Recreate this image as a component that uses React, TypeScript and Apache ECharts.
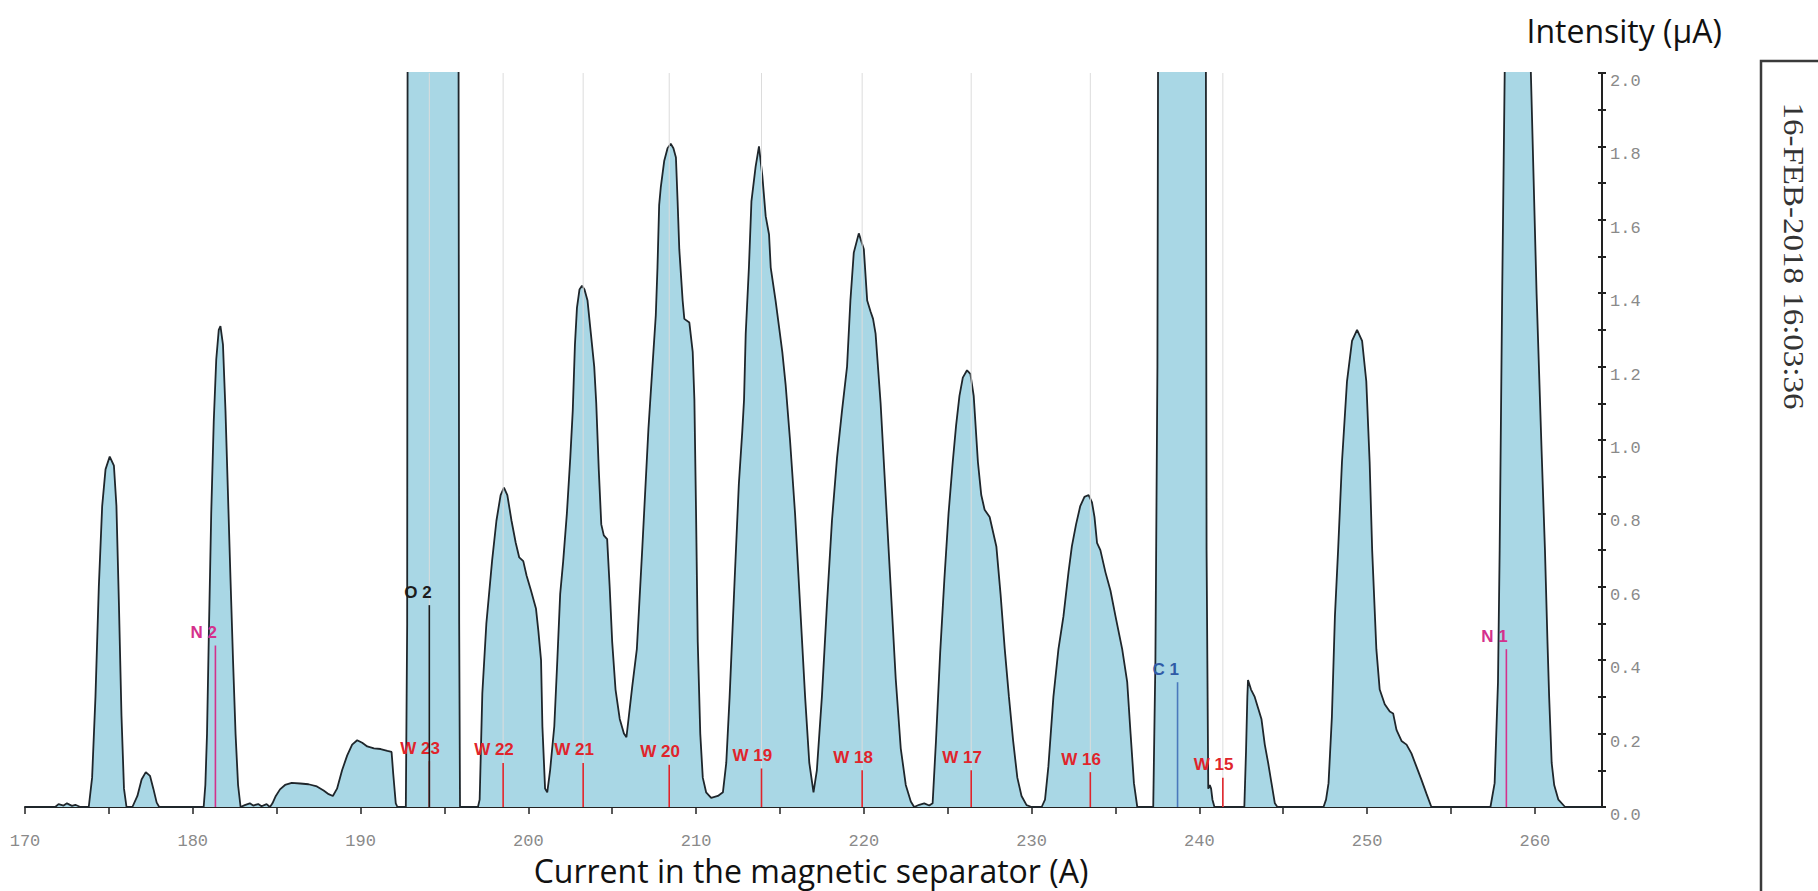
import React, { useEffect, useRef } from "react";
import * as echarts from "echarts";

// ---- Spectrum (current in A, intensity in µA) ----
const baselineStart: [number, number][] = [
  [170, 0], [171.8, 0], [172.0, 0.008], [172.3, 0.004], [172.5, 0.01], [172.8, 0.003], [173.0, 0.006], [173.3, 0],
];
const peak175: [number, number][] = [
  [173.8, 0], [174.0, 0.08], [174.2, 0.3], [174.4, 0.6], [174.6, 0.82], [174.8, 0.92], [175.05, 0.955],
  [175.3, 0.93], [175.45, 0.82], [175.6, 0.55], [175.75, 0.25], [175.9, 0.05], [176.05, 0],
];
const bump177: [number, number][] = [
  [176.4, 0], [176.7, 0.03], [176.95, 0.075], [177.2, 0.095], [177.45, 0.085], [177.65, 0.05], [177.85, 0.012], [178.0, 0],
  [180.5, 0],
];
const peakN2: [number, number][] = [
  [180.65, 0], [180.75, 0.06], [180.85, 0.2], [180.95, 0.45], [181.1, 0.8], [181.25, 1.05], [181.4, 1.22],
  [181.55, 1.3], [181.65, 1.31], [181.8, 1.26], [181.95, 1.08], [182.1, 0.85], [182.25, 0.62], [182.4, 0.4],
  [182.55, 0.2], [182.7, 0.06], [182.85, 0],
];
const noise183: [number, number][] = [
  [183.1, 0.005], [183.4, 0.01], [183.6, 0.004], [183.9, 0.008], [184.1, 0.002], [184.4, 0.008], [184.6, 0],
];
const humps186to191: [number, number][] = [
  [184.75, 0.01], [184.95, 0.03], [185.2, 0.048], [185.5, 0.06], [185.9, 0.066], [186.4, 0.064], [186.9, 0.062],
  [187.4, 0.056], [187.8, 0.045], [188.1, 0.035], [188.35, 0.03], [188.6, 0.05], [188.9, 0.1], [189.2, 0.14],
  [189.5, 0.17], [189.8, 0.182], [190.1, 0.175], [190.4, 0.165], [190.8, 0.16], [191.2, 0.158], [191.6, 0.153],
  [191.85, 0.15], [191.95, 0.09], [192.1, 0.01], [192.2, 0],
];
const barO2: [number, number][] = [
  [192.7, 0], [192.78, 0.5], [192.82, 3], [195.82, 3], [195.88, 0.5], [195.93, 0], [197.0, 0],
];
const peakW22: [number, number][] = [
  [197.1, 0.02], [197.26, 0.31], [197.5, 0.5], [197.84, 0.67], [198.1, 0.78], [198.35, 0.85], [198.55, 0.87],
  [198.75, 0.85], [199.0, 0.78], [199.25, 0.72], [199.46, 0.68], [199.7, 0.67], [199.9, 0.63], [200.16, 0.59],
  [200.46, 0.54], [200.6, 0.48], [200.76, 0.4], [200.84, 0.22], [201.0, 0.05], [201.13, 0.04],
];
const peakW21: [number, number][] = [
  [201.3, 0.1], [201.55, 0.22], [201.73, 0.4], [201.9, 0.58], [202.08, 0.67], [202.3, 0.8], [202.5, 0.95],
  [202.65, 1.08], [202.78, 1.26], [202.9, 1.36], [203.05, 1.41], [203.2, 1.42], [203.35, 1.41], [203.53, 1.38],
  [203.73, 1.29], [203.93, 1.2], [204.05, 1.1], [204.2, 0.92], [204.35, 0.77], [204.5, 0.74], [204.7, 0.73],
  [204.85, 0.6], [205.0, 0.45], [205.2, 0.32], [205.45, 0.24], [205.7, 0.2], [205.85, 0.19],
];
const peakW20: [number, number][] = [
  [206.0, 0.25], [206.2, 0.33], [206.47, 0.43], [206.8, 0.71], [207.16, 1.03], [207.4, 1.2], [207.6, 1.34],
  [207.7, 1.47], [207.8, 1.64], [207.9, 1.69], [208.1, 1.76], [208.3, 1.795], [208.49, 1.807], [208.65, 1.795],
  [208.8, 1.77], [208.9, 1.65], [209.0, 1.52], [209.2, 1.38], [209.3, 1.33], [209.6, 1.32], [209.8, 1.24],
  [209.9, 1.11], [210.0, 0.8], [210.1, 0.45], [210.25, 0.2], [210.4, 0.08], [210.6, 0.04], [210.9, 0.025],
  [211.3, 0.03],
];
const peakW19: [number, number][] = [
  [211.6, 0.04], [211.8, 0.12], [212.0, 0.3], [212.3, 0.62], [212.55, 0.88], [212.75, 1.02], [212.86, 1.11],
  [212.96, 1.29], [213.15, 1.47], [213.3, 1.65], [213.55, 1.745], [213.75, 1.8], [213.95, 1.72], [214.15, 1.61],
  [214.35, 1.56], [214.45, 1.47], [214.74, 1.38], [214.94, 1.31], [215.14, 1.24], [215.34, 1.15], [215.6, 1.0],
  [215.9, 0.8], [216.2, 0.55], [216.5, 0.3], [216.75, 0.12], [217.0, 0.04],
];
const peakW18: [number, number][] = [
  [217.2, 0.1], [217.5, 0.3], [217.8, 0.55], [218.1, 0.78], [218.4, 0.95], [218.7, 1.08], [219.0, 1.2],
  [219.2, 1.38], [219.4, 1.51], [219.7, 1.563], [220.0, 1.52], [220.2, 1.38], [220.4, 1.35], [220.55, 1.33],
  [220.7, 1.29], [221.0, 1.1], [221.3, 0.85], [221.6, 0.6], [221.9, 0.35], [222.2, 0.16], [222.5, 0.06],
  [222.8, 0.015], [223.0, 0],
];
const noise223: [number, number][] = [
  [223.3, 0.006], [223.6, 0.01], [223.9, 0.004],
];
const peakW17: [number, number][] = [
  [224.1, 0.01], [224.3, 0.18], [224.55, 0.42], [224.8, 0.62], [225.05, 0.8], [225.3, 0.94], [225.5, 1.04],
  [225.7, 1.12], [225.9, 1.17], [226.15, 1.19], [226.35, 1.18], [226.55, 1.12], [226.8, 0.94], [227.0, 0.85],
  [227.2, 0.81], [227.5, 0.79], [227.9, 0.71], [228.15, 0.58], [228.4, 0.43], [228.65, 0.3], [228.9, 0.18],
  [229.15, 0.08], [229.4, 0.03], [229.7, 0.005], [230.0, 0], [230.6, 0],
];
const peakW16: [number, number][] = [
  [230.8, 0.02], [231.0, 0.11], [231.3, 0.3], [231.6, 0.43], [231.9, 0.52], [232.2, 0.64], [232.4, 0.71],
  [232.65, 0.77], [232.9, 0.82], [233.15, 0.845], [233.4, 0.85], [233.6, 0.83], [233.75, 0.79], [233.9, 0.72],
  [234.1, 0.7], [234.4, 0.64], [234.7, 0.59], [235.0, 0.52], [235.4, 0.43], [235.7, 0.34], [235.9, 0.2],
  [236.1, 0.065], [236.3, 0],
];
const barC1: [number, number][] = [
  [237.25, 0], [237.38, 0.4], [237.5, 1.2], [237.58, 3], [240.36, 3], [240.43, 0.7], [240.53, 0.05],
  [240.62, 0.06], [240.7, 0.05], [240.78, 0.02], [240.9, 0],
];
const peak243: [number, number][] = [
  [242.68, 0], [242.78, 0.15], [242.86, 0.3], [242.9, 0.346], [243.08, 0.32], [243.3, 0.3], [243.5, 0.27],
  [243.7, 0.24], [243.9, 0.17], [244.1, 0.12], [244.3, 0.065], [244.5, 0.01], [244.65, 0],
];
const peak249: [number, number][] = [
  [247.4, 0], [247.55, 0.02], [247.7, 0.065], [247.9, 0.246], [248.08, 0.52], [248.27, 0.7], [248.5, 0.94],
  [248.8, 1.16], [249.1, 1.27], [249.4, 1.3], [249.7, 1.27], [249.95, 1.16], [250.15, 0.94], [250.3, 0.7],
  [250.55, 0.43], [250.75, 0.32], [251.05, 0.28], [251.35, 0.26], [251.55, 0.255], [251.75, 0.21],
  [252.05, 0.18], [252.35, 0.17], [252.64, 0.146], [252.94, 0.11], [253.24, 0.074], [253.53, 0.037], [253.83, 0],
];
const barN1: [number, number][] = [
  [257.35, 0], [257.6, 0.065], [257.8, 0.34], [257.9, 0.7], [258.05, 1.4], [258.2, 2.0], [258.35, 3],
  [259.6, 3], [259.76, 2.0], [260.1, 1.4], [260.4, 0.97], [260.6, 0.7], [260.75, 0.45], [260.85, 0.3],
  [261.0, 0.12], [261.15, 0.06], [261.4, 0.02], [261.8, 0], [264, 0],
];

// ---- Ion markers ----
const markerLabels = ["N 2", "W 23", "O 2", "W 22", "W 21", "W 20", "W 19", "W 18", "W 17", "W 16", "C 1", "W 15", "N 1"];
const markerCurrents = [181.35, 194.1, 194.1, 198.5, 203.27, 208.4, 213.9, 219.9, 226.4, 233.5, 238.7, 241.4, 258.3];
const markerHeights = [0.44, 0.125, 0.55, 0.12, 0.12, 0.115, 0.105, 0.1, 0.1, 0.095, 0.34, 0.08, 0.43];
const markerKinds = ["N", "W", "O", "W", "W", "W", "W", "W", "W", "W", "C", "W", "N"];

const xMin = 170;
const xMax = 264;
const yMin = 0;
const yMax = 2;

const kindLine: Record<string, string> = { W: "#e0242b", N: "#d4308c", O: "#1c1c1c", C: "#4a78bc" };
const kindText: Record<string, string> = { W: "#e0242b", N: "#d4308c", O: "#1c1c1c", C: "#2f5aa6" };

export default function App() {
  const ref = useRef<HTMLDivElement>(null);

  useEffect(() => {
    if (!ref.current) return;
    const chart = echarts.init(ref.current, undefined, { renderer: "svg" });

    const spectrum = [
      ...baselineStart, ...peak175, ...bump177, ...peakN2, ...noise183, ...humps186to191, ...barO2,
      ...peakW22, ...peakW21, ...peakW20, ...peakW19, ...peakW18, ...noise223, ...peakW17, ...peakW16,
      ...barC1, ...peak243, ...peak249, ...barN1,
    ];
    const markerData = markerCurrents.map((c, i) => [c, markerHeights[i], i]);

    const monoLabel = {
      color: "#8a8a8a",
      fontFamily: "'Liberation Mono', 'DejaVu Sans Mono', monospace",
      fontSize: 17,
      lineHeight: 17,
    };

    chart.setOption({
      animation: false,
      backgroundColor: "#ffffff",
      grid: { left: 25, right: 216, top: 73, bottom: 84, containLabel: false },
      xAxis: {
        type: "value",
        min: xMin,
        max: xMax,
        interval: 5,
        axisLine: { show: true, onZero: true, lineStyle: { color: "#222", width: 2 } },
        axisTick: { show: true, length: 7, lineStyle: { color: "#222", width: 1.5 } },
        axisLabel: {
          ...monoLabel,
          margin: 26,
          showMaxLabel: false,
          formatter: (v: number) => (Math.round(v) % 10 === 0 ? String(Math.round(v)) : ""),
        },
        splitLine: { show: false },
      },
      yAxis: [
        {
          type: "value",
          position: "right",
          min: yMin,
          max: yMax,
          interval: 0.2,
          axisLine: { show: true, lineStyle: { color: "#222", width: 2 } },
          axisTick: { show: true, length: 4, lineStyle: { color: "#222", width: 2 } },
          minorTick: { show: true, splitNumber: 2, length: 4, lineStyle: { color: "#222", width: 2 } },
          axisLabel: {
            ...monoLabel,
            margin: 8,
            verticalAlign: "top",
            formatter: (v: number) => v.toFixed(1),
          },
          splitLine: { show: false },
        },
        {
          type: "value",
          position: "right",
          min: yMin,
          max: yMax,
          interval: 0.2,
          axisLine: { show: false },
          axisTick: { show: true, inside: true, length: 4, lineStyle: { color: "#222", width: 2 } },
          minorTick: { show: true, splitNumber: 2, length: 4, lineStyle: { color: "#222", width: 2 } },
          axisLabel: { show: false },
          splitLine: { show: false },
        },
      ],
      series: [
        {
          type: "line",
          data: spectrum,
          showSymbol: false,
          symbol: "none",
          smooth: false,
          clip: true,
          lineStyle: { color: "#1f262b", width: 1.8 },
          areaStyle: { color: "#a9d7e5", opacity: 1 },
          z: 2,
        },
        {
          type: "custom",
          data: markerData,
          encode: { x: 0, y: 1 },
          z: 5,
          renderItem: (params: any, api: any) => {
            const x = api.value(0) as number;
            const h = api.value(1) as number;
            const i = api.value(2) as number;
            const kind = markerKinds[i];
            const base = api.coord([x, 0]);
            const top = api.coord([x, h]);
            const full = api.coord([x, yMax]);
            const children: any[] = [];
            if (kind === "W") {
              children.push({
                type: "line",
                shape: { x1: base[0], y1: base[1], x2: full[0], y2: full[1] },
                style: { stroke: "#dcdcdc", lineWidth: 1 },
              });
            }
            children.push({
              type: "line",
              shape: { x1: base[0], y1: base[1], x2: top[0], y2: top[1] },
              style: { stroke: kindLine[kind], lineWidth: 1.6 },
            });
            children.push({
              type: "text",
              x: top[0] - (kind === "W" ? 29 : 25),
              y: top[1] - 13,
              style: {
                text: markerLabels[i],
                fill: kindText[kind],
                font: "bold 17px 'Liberation Sans', Arial, sans-serif",
                align: "left",
                verticalAlign: "middle",
                textAlign: "left",
                textVerticalAlign: "middle",
              },
            });
            return { type: "group", children };
          },
        },
      ],
      graphic: [
        {
          type: "text",
          x: 1722,
          y: 30,
          style: {
            text: "Intensity (µA)",
            font: "32px 'Open Sans', sans-serif",
            lineHeight: 36,
            fill: "#111",
            align: "right",
            verticalAlign: "middle",
            textAlign: "right",
            textVerticalAlign: "middle",
          },
        },
        {
          type: "text",
          x: 811,
          y: 870,
          style: {
            text: "Current in the magnetic separator (A)",
            font: "32px 'Open Sans', sans-serif",
            lineHeight: 34,
            fill: "#111",
            align: "center",
            verticalAlign: "middle",
            textAlign: "center",
            textVerticalAlign: "middle",
          },
        },
        {
          type: "polyline",
          shape: { points: [[1830, 61], [1761, 61], [1761, 900]] },
          style: { stroke: "#3a3a3a", lineWidth: 2.5, fill: "none" },
        },
        {
          type: "text",
          x: 1794,
          y: 256,
          rotation: -Math.PI / 2,
          scaleX: 1.1,
          style: {
            text: "16-FEB-2018 16:03:36",
            font: "30px 'Liberation Serif', serif",
            fill: "#333",
            align: "center",
            verticalAlign: "middle",
            textAlign: "center",
            textVerticalAlign: "middle",
          },
        },
      ],
    });

    return () => chart.dispose();
  }, []);

  return (
    <div
      ref={ref}
      style={{ position: "fixed", left: 0, top: 0, width: 1818, height: 891, background: "#fff" }}
    />
  );
}
